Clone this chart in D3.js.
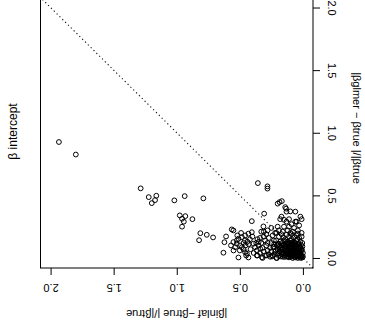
<!DOCTYPE html>
<html>
<head>
<meta charset="utf-8">
<script src="https://cdn.jsdelivr.net/npm/d3@7"></script>
<style>
  html, body { margin: 0; padding: 0; background: #fff; }
  svg { display: block; font-family: "Liberation Sans", Arial, Helvetica, sans-serif; }
</style>
</head>
<body>
<svg id="chart" width="365" height="336"></svg>
<script>
// Relative error of the intercept: INLA (final) estimate vs glmer estimate
const inlaErr = [
  1.934, 1.80, 1.286, 1.222, 1.162, 1.172, 1.198, 1.019, 0.937, 0.789,
  0.976, 0.932, 0.958, 0.944, 0.876, 0.958, 0.813, 0.762, 0.712, 0.823,
  0.564, 0.609, 0.622, 0.63, 0.511, 0.432, 0.444, 0.458,
  0.551, 0.524, 0.511, 0.484, 0.458, 0.432, 0.405, 0.498, 0.524, 0.537, 0.484, 0.392, 0.379, 0.352, 0.365, 0.339,
  0.551, 0.47, 0.455, 0.44, 0.5, 0.47, 0.42, 0.4, 0.415, 0.39, 0.52, 0.49, 0.46, 0.43, 0.57, 0.55,
  0.357, 0.281, 0.281, 0.405, 0.307, 0.313,
  0.36, 0.34, 0.33, 0.32, 0.31, 0.30, 0.30, 0.29, 0.28, 0.28, 0.27, 0.27, 0.26, 0.26, 0.25, 0.25, 0.24, 0.24, 0.23, 0.23,
  0.35, 0.34, 0.37, 0.32, 0.29, 0.33, 0.31, 0.36, 0.22, 0.22, 0.28, 0.25, 0.31,
  0.2, 0.185, 0.167, 0.14, 0.133, 0.13, 0.1, 0.06, 0.02, 0.01, 0.17, 0.18, 0.15, 0.11, 0.06, 0.13, 0.09, 0.05,
  0.2, 0.15, 0.11, 0.07, 0.03, 0.19, 0.16, 0.12, 0.08, 0.04, 0.01, 0.21,
  0.005, 0.01, 0.015, 0.02, 0.025, 0.03, 0.035, 0.04, 0.045, 0.05, 0.055, 0.06, 0.065, 0.07, 0.075, 0.08, 0.085, 0.09,
  0.095, 0.1, 0.105, 0.11, 0.115, 0.12, 0.125, 0.13, 0.14, 0.15, 0.16, 0.17, 0.18, 0.19, 0.2, 0.21, 0.0, 0.0, 0.008, 0.02,
  0.01, 0.03, 0.04, 0.05, 0.06, 0.065, 0.075, 0.085, 0.095, 0.1, 0.11, 0.12, 0.13, 0.14, 0.15, 0.16, 0.17, 0.18, 0.19, 0.2,
  0.205, 0.035, 0.055, 0.09,
  0.005, 0.02, 0.035, 0.05, 0.06, 0.075, 0.085, 0.1, 0.11, 0.125, 0.135, 0.15, 0.165, 0.18, 0.195, 0.045, 0.09, 0.14,
  0.01, 0.03, 0.05, 0.07, 0.09, 0.11, 0.13, 0.155, 0.17, 0.19, 0.04, 0.1,
  0.012, 0.018, 0.028, 0.032, 0.042, 0.048, 0.058, 0.068, 0.072, 0.082, 0.088, 0.098, 0.108, 0.118, 0.022, 0.038,
  0.062, 0.078, 0.092, 0.135, 0.145, 0.155, 0.165, 0.175,
  0.45, 0.365, 0.325, 0.286, 0.206,
  0.015, 0.025, 0.045, 0.052, 0.066, 0.074, 0.083, 0.094, 0.103, 0.112, 0.122, 0.128, 0.138, 0.148, 0.158, 0.168,
  0.004, 0.014, 0.026, 0.036, 0.046, 0.056, 0.064, 0.077, 0.087, 0.097, 0.106, 0.116, 0.126, 0.142, 0.152, 0.172,
  0.186, 0.196, 0.215, 0.225, 0.235, 0.245, 0.212, 0.228
];
const glmerErr = [
  0.926, 0.826, 0.556, 0.486, 0.497, 0.462, 0.438, 0.46, 0.494, 0.476,
  0.34, 0.334, 0.313, 0.29, 0.31, 0.25, 0.198, 0.185, 0.164, 0.142,
  0.228, 0.172, 0.126, 0.042, 0.004, 0.004, 0.034, 0.046,
  0.127, 0.14, 0.154, 0.166, 0.18, 0.194, 0.206, 0.1, 0.114, 0.086, 0.086, 0.114, 0.086, 0.1, 0.06, 0.074,
  0.22, 0.12, 0.1, 0.13, 0.06, 0.07, 0.15, 0.17, 0.07, 0.04, 0.18, 0.2, 0.14, 0.11, 0.1, 0.06,
  0.598, 0.572, 0.554, 0.294, 0.354, 0.252,
  0.02, 0.04, 0.12, 0.08, 0.05, 0.14, 0.02, 0.1, 0.06, 0.12, 0.03, 0.16, 0.08, 0.01, 0.12, 0.05, 0.18, 0.02, 0.09, 0.14,
  0.13, 0.16, 0.12, 0.0, 0.19, 0.21, 0.17, 0.15, 0.05, 0.2, 0.22, 0.24, 0.21,
  0.434, 0.446, 0.454, 0.406, 0.394, 0.37, 0.372, 0.37, 0.33, 0.31, 0.33, 0.31, 0.305, 0.31, 0.29, 0.29, 0.27, 0.29,
  0.25, 0.25, 0.25, 0.24, 0.26, 0.22, 0.21, 0.22, 0.21, 0.22, 0.2, 0.2,
  0.005, 0.02, 0.0, 0.035, 0.01, 0.05, 0.02, 0.0, 0.04, 0.015, 0.03, 0.005, 0.045, 0.02, 0.035, 0.0, 0.05, 0.025,
  0.01, 0.04, 0.02, 0.005, 0.045, 0.03, 0.01, 0.05, 0.02, 0.04, 0.01, 0.03, 0.05, 0.015, 0.035, 0.0, 0.01, 0.04, 0.06, 0.08,
  0.07, 0.09, 0.065, 0.08, 0.1, 0.06, 0.085, 0.07, 0.095, 0.06, 0.08, 0.07, 0.095, 0.06, 0.085, 0.07, 0.1, 0.075, 0.09, 0.065,
  0.1, 0.055, 0.095, 0.055,
  0.12, 0.13, 0.11, 0.14, 0.12, 0.13, 0.11, 0.14, 0.12, 0.13, 0.115, 0.14, 0.12, 0.13, 0.115, 0.15, 0.15, 0.15,
  0.17, 0.16, 0.18, 0.165, 0.19, 0.17, 0.185, 0.165, 0.19, 0.17, 0.195, 0.2,
  0.012, 0.025, 0.03, 0.008, 0.022, 0.032, 0.018, 0.008, 0.028, 0.015, 0.038, 0.028, 0.035, 0.015, 0.045, 0.042,
  0.038, 0.048, 0.045, 0.035, 0.008, 0.025, 0.045, 0.012,
  0.02, 0.02, 0.006, 0.02, 0.0,
  0.062, 0.078, 0.068, 0.052, 0.088, 0.044, 0.102, 0.058, 0.076, 0.108, 0.054, 0.09, 0.072, 0.104, 0.048, 0.082,
  0.092, 0.104, 0.086, 0.112, 0.074, 0.098, 0.118, 0.106, 0.124, 0.082, 0.092, 0.104, 0.118, 0.096, 0.108, 0.084,
  0.052, 0.108, 0.062, 0.03, 0.085, 0.012, 0.14, 0.11
];
const xTicks = [0, 0.5, 1, 1.5, 2];
const yTicks = [0, 0.5, 1, 1.5, 2];
const xTitle = "|βinlaf −βtrue |/|βtrue";
const yTitle = "|βglmer − βtrue |/|βtrue";
const sideTitle = "β intercept";

const svg = d3.select("#chart");
const box = { left: 40.5, right: 313, top: -2.5, bottom: 268 };

// both axes span 0..2 with a 4% margin on each side
const x = d3.scaleLinear().domain([-0.08, 2.08]).range([box.right, box.left]);
const y = d3.scaleLinear().domain([-0.08, 2.08]).range([box.bottom, box.top]);

svg.append("rect").attr("width", 365).attr("height", 336).attr("fill", "#fff");

// identity reference line
svg.append("line")
  .attr("x1", x(-0.08)).attr("y1", y(-0.08))
  .attr("x2", x(2.08)).attr("y2", y(2.08))
  .attr("stroke", "#111").attr("stroke-width", 1.1)
  .attr("stroke-dasharray", "1.2,2.8");

// points
const pts = inlaErr.map((v, i) => [v, glmerErr[i]]);
svg.append("g").selectAll("circle").data(pts).join("circle")
  .attr("cx", d => x(d[0])).attr("cy", d => y(d[1]))
  .attr("r", 2.4)
  .attr("fill", "none").attr("stroke", "#000").attr("stroke-width", 1);

// frame
svg.append("rect")
  .attr("x", box.left).attr("y", box.top)
  .attr("width", box.right - box.left).attr("height", box.bottom - box.top)
  .attr("fill", "none").attr("stroke", "#000").attr("stroke-width", 1);

// bottom axis, labels turned upside down
const gx = svg.append("g").attr("transform", `translate(0,${box.bottom})`)
  .call(d3.axisBottom(x).tickValues(xTicks).tickFormat(d3.format(".1f")).tickSize(7).tickSizeOuter(0));
gx.select(".domain").remove();
gx.selectAll("line").attr("stroke", "#000");
gx.selectAll("text")
  .attr("y", 0).attr("dy", "0.35em")
  .attr("transform", "translate(0,19.5) rotate(180)")
  .attr("font-size", 11).attr("fill", "#000")
  .attr("font-family", "Liberation Sans, Arial, sans-serif");

// right axis, labels reading top to bottom
const gy = svg.append("g").attr("transform", `translate(${box.right},0)`)
  .call(d3.axisRight(y).tickValues(yTicks).tickFormat(d3.format(".1f")).tickSize(7).tickSizeOuter(0));
gy.select(".domain").remove();
gy.selectAll("line").attr("stroke", "#000");
gy.selectAll("text")
  .attr("x", 0).attr("dy", "0.35em")
  .attr("text-anchor", "middle")
  .attr("transform", "translate(19,0) rotate(90)")
  .attr("font-size", 11).attr("fill", "#000")
  .attr("font-family", "Liberation Sans, Arial, sans-serif");

// titles
svg.append("text")
  .attr("transform", `translate(${(box.left + box.right) / 2},314) rotate(180)`)
  .attr("text-anchor", "middle").attr("dy", "0.35em")
  .attr("font-size", 11).text(xTitle);

svg.append("text")
  .attr("transform", "translate(357,128) rotate(90)")
  .attr("text-anchor", "middle").attr("dy", "0.35em")
  .attr("font-size", 11).text(yTitle);

svg.append("text")
  .attr("transform", "translate(13,131.5) rotate(-90)")
  .attr("text-anchor", "middle").attr("dy", "0.35em")
  .attr("font-size", 12).text(sideTitle);
</script>
</body>
</html>
